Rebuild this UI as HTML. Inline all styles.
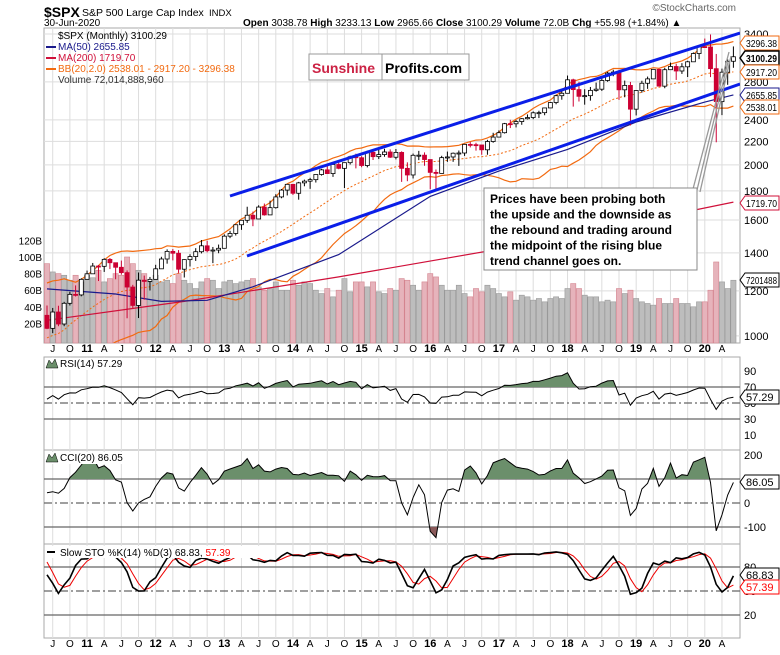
<!DOCTYPE html>
<html><head><meta charset="utf-8"><style>
html,body{margin:0;padding:0;background:#fff;}
svg{display:block;font-family:"Liberation Sans",sans-serif;}
</style></head><body>
<svg id="c" width="780" height="655" viewBox="0 0 780 655" xmlns="http://www.w3.org/2000/svg">
<text x="44" y="17" font-size="14" font-weight="bold">$SPX</text>
<text x="82" y="16" font-size="10.5">S&amp;P 500 Large Cap Index</text>
<text x="209" y="16" font-size="9.5">INDX</text>
<text x="44" y="26" font-size="10">30-Jun-2020</text>
<text x="243" y="26" font-size="10"><tspan font-weight="bold">Open</tspan> 3038.78 <tspan font-weight="bold">High</tspan> 3233.13 <tspan font-weight="bold">Low</tspan> 2965.66 <tspan font-weight="bold">Close</tspan> 3100.29 <tspan font-weight="bold">Volume</tspan> 72.0B <tspan font-weight="bold">Chg</tspan> +55.98 (+1.84%) ▲</text>
<text x="736" y="11" font-size="10" fill="#666" text-anchor="end">©StockCharts.com</text>
<g id="g"></g>
</svg>
<script>
const NS='http://www.w3.org/2000/svg';
const priorCloses=[896,903,826,735,798,873,919,919,987,1021,1057,1036,1096,1115,1074,1104,1169,1187,1089];
const opens0=1087;
const closes=[1031,1101.6,1049.3,1141.2,1183.3,1180.6,1257.6,
1286.1,1327.2,1325.8,1363.6,1345.2,1320.6,1292.3,1218.9,1131.4,1253.3,1247.0,1257.6,
1312.4,1365.7,1408.5,1397.9,1310.3,1362.2,1379.3,1406.6,1440.7,1412.2,1416.2,1426.2,
1498.1,1514.7,1569.2,1597.6,1630.7,1606.3,1685.7,1633.0,1681.6,1756.5,1805.8,1848.4,
1782.6,1859.5,1872.3,1883.9,1923.6,1960.2,1930.7,2003.4,1972.3,2018.1,2067.6,2058.9,
1995.0,2104.5,2067.9,2085.5,2107.4,2063.1,2103.8,1972.2,1920.0,2079.4,2080.4,2043.9,
1940.2,1932.2,2059.7,2065.3,2096.9,2098.9,2173.6,2171.0,2168.3,2126.2,2198.8,2238.8,
2278.9,2363.6,2362.7,2384.2,2411.8,2423.4,2470.3,2471.7,2519.4,2575.3,2647.6,2673.6,
2823.8,2713.8,2640.9,2648.1,2705.3,2718.4,2816.3,2901.5,2914.0,2711.7,2760.2,2506.9,
2704.1,2784.5,2834.4,2945.8,2752.1,2941.8,2980.4,2926.5,2976.7,3037.6,3141.0,3230.8,
3225.5,2954.2,2584.6,2912.4,3044.3,3100.3];
const highs=[1131,1120,1130,1148,1196,1227,1263,
1303,1344,1333,1370,1371,1345,1357,1304,1230,1293,1277,1270,
1334,1378,1420,1422,1416,1364,1392,1427,1475,1470,1434,1448,
1509,1531,1570,1598,1688,1655,1698,1710,1730,1776,1814,1850,
1850,1867,1884,1898,1924,1968,1992,2005,2019,2019,2076,2093,
2072,2120,2118,2126,2135,2130,2133,2113,2021,2094,2117,2104,
2038,1963,2075,2111,2103,2120,2178,2194,2188,2169,2214,2278,
2300,2371,2401,2399,2418,2454,2484,2491,2520,2582,2658,2695,
2873,2836,2801,2718,2743,2792,2848,2917,2941,2940,2815,2800,
2708,2813,2861,2950,2954,2965,3028,3014,3021,3050,3155,3248,
3338,3393,3136,2955,3068,3233];
const lows=[1028,1011,1040,1040,1131,1173,1174,
1258,1295,1249,1296,1311,1258,1282,1074,1120,1075,1158,1202,
1259,1312,1340,1358,1291,1267,1325,1355,1397,1403,1343,1398,
1426,1486,1502,1537,1581,1560,1605,1628,1633,1675,1747,1767,
1770,1737,1834,1815,1862,1915,1928,1905,1965,1821,2003,1972,
1981,1980,2040,2048,2067,2057,2045,1867,1872,1893,2039,1993,
1812,1810,1938,2025,2025,1992,2074,2147,2119,2084,2084,2188,
2245,2271,2322,2328,2353,2405,2407,2418,2446,2520,2557,2605,
2683,2533,2586,2553,2595,2691,2699,2802,2865,2603,2631,2347,
2444,2681,2722,2849,2750,2729,2952,2822,2892,2856,3050,3071,
3214,2855,2192,2447,2767,2965];
const volumes=[92,82,80,78,72,78,70,
78,75,84,70,74,80,78,100,92,84,80,70,
78,70,72,68,80,72,68,62,70,74,72,62,
70,72,68,70,72,74,64,60,62,70,60,60,
72,66,70,68,60,56,62,52,60,74,58,70,
70,64,70,58,56,62,60,74,72,66,60,70,
80,76,66,60,60,66,56,52,62,58,66,62,
56,52,58,48,54,52,48,50,46,50,52,50,
62,68,62,54,52,52,46,48,46,62,56,60,
50,46,44,42,50,44,44,50,44,44,40,46,
46,60,94,70,62,72];
const ma50Idx=[0,12,20,28,36,51,67,79,91,103,115,120];
const ma50Val=[1210,1185,1150,1155,1220,1390,1760,1950,2130,2380,2580,2656];
const ma200Idx=[0,24,51,84,120];
const ma200Val=[1065,1150,1270,1450,1720];
const priceTicks=[1000,1200,1400,1600,1800,2000,2200,2400,2800,3400];
const volTicks=[20,40,60,80,100,120];
const xLabels=['J','O','11','A','J','O','12','A','J','O','13','A','J','O','14','A','J','O','15','A','J','O','16','A','J','O','17','A','J','O','18','A','J','O','19','A','J','O','20','A'];

const G=document.getElementById('g');
function el(tag,attrs,parent){const e=document.createElementNS(NS,tag);for(const k in attrs)e.setAttribute(k,attrs[k]);(parent||G).appendChild(e);return e;}
const X0=47,DX=5.72,L=44,R=740;
function xs(i){return X0+i*DX;}
function py(p){return 34+568*Math.log10(3400/p);}
function vy(v){return 340-v*0.83;}
function ry(v){return 403-(v-50)*0.8;}
function cy(v){return 503-v*0.24;}
function sy(v){return 591-(v-50)*0.8;}
const N=closes.length;
const opens=closes.map((c,i)=>i===0?opens0:closes[i-1]);

const panels=[['main-panel',28,343],['rsi-panel',357,450],['cci-panel',450,544],['sto-panel',544,638]];
panels.forEach(p=>{const r=el('rect',{x:L,y:p[1],width:R-L,height:p[2]-p[1],fill:'#fff',stroke:'#aaa'});});
xLabels.forEach((t,k)=>{const i=1+3*k;const x=xs(i);
 [[28,343],[357,638]].forEach(s=>{const ln=el('line',{x1:x,x2:x,y1:s[0],y2:s[1],stroke:'#ddd'});});
 [352,647].forEach(yy=>{const tx=el('text',{x:x,y:yy,'font-size':t.length>1?11:10,'font-weight':t.length>1?'bold':'normal','text-anchor':'middle'});tx.textContent=t;});
});
priceTicks.forEach(p=>{const y=py(p);const ln=el('line',{x1:L,x2:R,y1:y,y2:y,stroke:'#ddd'});
 const t=el('text',{x:744,y:y+4,'font-size':11});t.textContent=p;});
volTicks.forEach(v=>{const t=el('text',{x:42,y:vy(v)+4,'font-size':10,'text-anchor':'end'});t.textContent=v+'B';});
volumes.forEach((v,i)=>{const dn=closes[i]<opens[i];const b=el('rect',{x:xs(i)-2.6,y:vy(v),width:5.2,height:v*0.83+3,fill:dn?'#e6b3bb':'#bdbdbd',stroke:dn?'#d4848f':'#999','stroke-width':0.6});});
const all=priorCloses.concat(closes);const P=priorCloses.length;
const bbU=[],bbM=[],bbL=[];
for(let i=0;i<N;i++){const w=all.slice(P+i-19,P+i+1);const m=w.reduce((a,b)=>a+b,0)/20;const sd=Math.sqrt(w.reduce((a,b)=>a+(b-m)*(b-m),0)/20);bbU.push(m+2*sd);bbM.push(m);bbL.push(m-2*sd);}
function pl(arr,idx,yf,attrs,name){const pts=arr.map((v,k)=>(xs(idx?idx[k]:k)).toFixed(1)+','+yf(v).toFixed(1)).join(' ');const e=el('polyline',Object.assign({points:pts,fill:'none'},attrs));return e;}
const clip=el('clipPath',{id:'mc'});el('rect',{x:L,y:28,width:R-L,height:315},clip);
const mg=el('g',{'clip-path':'url(#mc)'});
function plm(a,i,f,at,n){const e=pl(a,i,f,at,n);mg.appendChild(e);}
plm(bbU,null,py,{stroke:'#f26a10','stroke-width':1.2},'bb-upper');
plm(bbL,null,py,{stroke:'#f26a10','stroke-width':1.2},'bb-lower');
plm(bbM,null,py,{stroke:'#f26a10','stroke-width':1,'stroke-dasharray':'2,2'},'bb-middle');
plm(ma200Val,ma200Idx,py,{stroke:'#d0103a','stroke-width':1.2},'ma200-line');
plm(ma50Val,ma50Idx,py,{stroke:'#1a1a8c','stroke-width':1.2},'ma50-line');
for(let i=0;i<N;i++){const o=opens[i],c=closes[i],x=xs(i);const dn=c<o;const col=dn?'#cc0033':'#000';
 const w=el('line',{x1:x,x2:x,y1:py(highs[i]),y2:py(lows[i]),stroke:col,'stroke-width':1},mg);
 const t=py(Math.max(o,c)),b=py(Math.min(o,c));
 const r=el('rect',{x:x-2,y:t,width:4,height:Math.max(1,b-t),fill:dn?'#cc0033':'#fff',stroke:col,'stroke-width':0.8},mg);}
[[230,196,740,33],[247,256,740,84]].forEach((l,k)=>{const e=el('line',{x1:l[0],y1:l[1],x2:l[2],y2:l[3],stroke:'#0a1ee8','stroke-width':3},mg);});
[[693,189,729,52],[700,192,731,56],[697,190,728,62]].forEach(l=>{const e=el('line',{x1:l[0],y1:l[1],x2:l[2],y2:l[3],stroke:'#999','stroke-width':1.3});});
const leg=[['$SPX (Monthly) 3100.29','#000'],['MA(50) 2655.85','#1a1a8c'],['MA(200) 1719.70','#d0103a'],['BB(20,2.0) 2538.01 - 2917.20 - 3296.38','#f26a10'],['Volume 72,014,888,960','#333']];
leg.forEach((l,k)=>{const y=39+k*11;const t=el('text',{x:58,y:y,'font-size':10,fill:l[1]});t.textContent=l[0];
 if(k>0&&k<4){el('rect',{x:46,y:y-4,width:10,height:2,fill:l[1]});}});
const lg=el('g',{});
el('rect',{x:309,y:54,width:160,height:26,fill:'#fff',stroke:'#999'},lg);el('line',{x1:382,x2:382,y1:54,y2:80,stroke:'#999'},lg);
const l1=el('text',{x:312,y:73,'font-size':14,'font-weight':'bold',fill:'#cc2244'},lg);l1.textContent='Sunshine';
const l2=el('text',{x:385,y:73,'font-size':14,'font-weight':'bold'},lg);l2.textContent='Profits.com';
const ag=el('g',{});
el('rect',{x:484,y:188,width:213,height:82,fill:'#fff',stroke:'#888'},ag);
['Prices have been probing both','the upside and the downside as','the rebound and trading around','the midpoint of the rising blue','trend channel goes on.'].forEach((s,k)=>{const t=el('text',{x:490,y:203+k*15.5,'font-size':12,'font-weight':'bold'},ag);t.textContent=s;});
function tag(y,txt,col,bold,name){const g=el('g',{});
 el('polygon',{points:`740,${y} 745,${y-7} 779,${y-7} 779,${y+7} 745,${y+7}`,fill:'#fff',stroke:col,'stroke-width':bold?1.5:1},g);
 const at={x:746,y:y+4,'font-size':txt.length>=7?10:11,'font-weight':bold?'bold':'normal',fill:col==='red'?'red':'#000'};
 if(txt.length>=7){at.textLength=31;at.lengthAdjust='spacingAndGlyphs';}
 const t=el('text',at,g);t.textContent=txt;}
tag(43,'3296.38','#f26a10',false,'bb-upper-tag');tag(58,'3100.29','#000',true,'price-tag');tag(72,'2917.20','#f26a10',false,'bb-middle-tag');
tag(95,'2655.85','#1a1a8c',false,'ma50-tag');tag(107,'2538.01','#f26a10',false,'bb-lower-tag');tag(203,'1719.70','#d0103a',false,'ma200-tag');tag(280,'7201488','#000',false,'volume-tag');

const rsi=[];{let ag=0,al=0;const ch=[];for(let i=1;i<all.length;i++)ch.push(all[i]-all[i-1]);
 for(let k=0;k<14;k++){ag+=Math.max(ch[k],0);al+=Math.max(-ch[k],0);}ag/=14;al/=14;
 for(let k=14;k<ch.length;k++){ag=(ag*13+Math.max(ch[k],0))/14;al=(al*13+Math.max(-ch[k],0))/14;if(k+1>=P)rsi.push(100-100/(1+ag/al));}}
const tpP=priorCloses.slice();const tp=closes.map((c,i)=>(highs[i]+lows[i]+c)/3);const tpAll=tpP.concat(tp);
const cci=[];for(let i=0;i<N;i++){const w=tpAll.slice(P+i-19,P+i+1);const m=w.reduce((a,b)=>a+b,0)/20;const md=w.reduce((a,b)=>a+Math.abs(b-m),0)/20;cci.push((tp[i]-m)/(0.015*md));}
const hA=priorCloses.concat(highs),lA=priorCloses.concat(lows);const fk=[];
for(let i=0;i<all.length;i++){const s=Math.max(0,i-13);const hh=Math.max(...hA.slice(s,i+1)),ll=Math.min(...lA.slice(s,i+1));fk.push(hh===ll?50:(all[i]-ll)/(hh-ll)*100);}
const sk=fk.map((v,i)=>i<2?v:(fk[i]+fk[i-1]+fk[i-2])/3);const sd=sk.map((v,i)=>i<2?v:(sk[i]+sk[i-1]+sk[i-2])/3);
const stoK=sk.slice(P),stoD=sd.slice(P);

function refLines(vals,yf,name){vals.forEach((v,k)=>{const y=yf(v);const e=el('line',{x1:L,x2:R,y1:y,y2:y,stroke:'#666','stroke-width':1.2,'stroke-dasharray':k===1?'8,3,2,3':''});});}
function fillArea(arr,yf,lvl,above,color,top,bot,id){const c=el('clipPath',{id:id});const yl=yf(lvl);
 el('rect',above?{x:L,y:top,width:R-L,height:yl-top}:{x:L,y:yl,width:R-L,height:bot-yl},c);
 let d='M'+xs(0)+','+yl;arr.forEach((v,i)=>{d+=' L'+xs(i).toFixed(1)+','+yf(v).toFixed(1);});d+=' L'+xs(arr.length-1)+','+yl+' Z';
 const e=el('path',{d:d,fill:color,'clip-path':`url(#${id})`});}
function axisLabels(vals,yf,name){vals.forEach(v=>{const t=el('text',{x:744,y:yf(v)+4,'font-size':11});t.textContent=v;});}
axisLabels([90,70,50,30,10],ry,'rsi-tick-label');refLines([70,50,30],ry,'rsi-ref-line');
fillArea(rsi,ry,70,true,'#6b8f6b',357,450,'rc');
pl(rsi,null,ry,{stroke:'#000','stroke-width':1},'rsi-line');
axisLabels([200,0],cy,'cci-tick-label');{const t=el('text',{x:744,y:531,'font-size':11});t.textContent='-100';}
refLines([100,0,-100],cy,'cci-ref-line');
fillArea(cci,cy,100,true,'#6b8f6b',450,544,'cc1');fillArea(cci,cy,-100,false,'#8a5a5a',450,544,'cc2');
pl(cci,null,cy,{stroke:'#000','stroke-width':1},'cci-line');
axisLabels([80,50,20],sy,'sto-tick-label');refLines([80,50,20],sy,'sto-ref-line');
const sc=el('clipPath',{id:'sc'});el('rect',{x:L,y:544,width:R-L,height:94},sc);
const sg=el('g',{'clip-path':'url(#sc)'});
sg.appendChild(pl(stoD,null,sy,{stroke:'#e00','stroke-width':1},'sto-d-line'));
sg.appendChild(pl(stoK,null,sy,{stroke:'#000','stroke-width':1.6},'sto-k-line'));
function ptitle(y,txt,w,name){el('rect',{x:45,y:y-9,width:w,height:12,fill:'#fff'});el('polygon',{points:`46,${y+1} 49,${y-7} 52,${y-3} 55,${y-8} 58,${y+1}`,fill:'#6b8f6b',stroke:'#000','stroke-width':0.5});const t=el('text',{x:60,y:y,'font-size':10});t.innerHTML=txt;}
ptitle(367,'RSI(14) 57.29',85,'rsi-title');ptitle(461,'CCI(20) 86.05',85,'cci-title');
{el('rect',{x:45,y:546,width:230,height:12,fill:'#fff'});el('rect',{x:47,y:551,width:8,height:2,fill:'#000'});const t=el('text',{x:60,y:556,'font-size':10});t.innerHTML='Slow STO %K(14) %D(3) 68.83, <tspan fill="red">57.39</tspan>';}
tag(397,'57.29','#000',false,'rsi-tag');tag(482,'86.05','#000',false,'cci-tag');tag(575,'68.83','#000',false,'sto-k-tag');tag(587,'57.39','red',false,'sto-d-tag');
</script>
</body></html>
